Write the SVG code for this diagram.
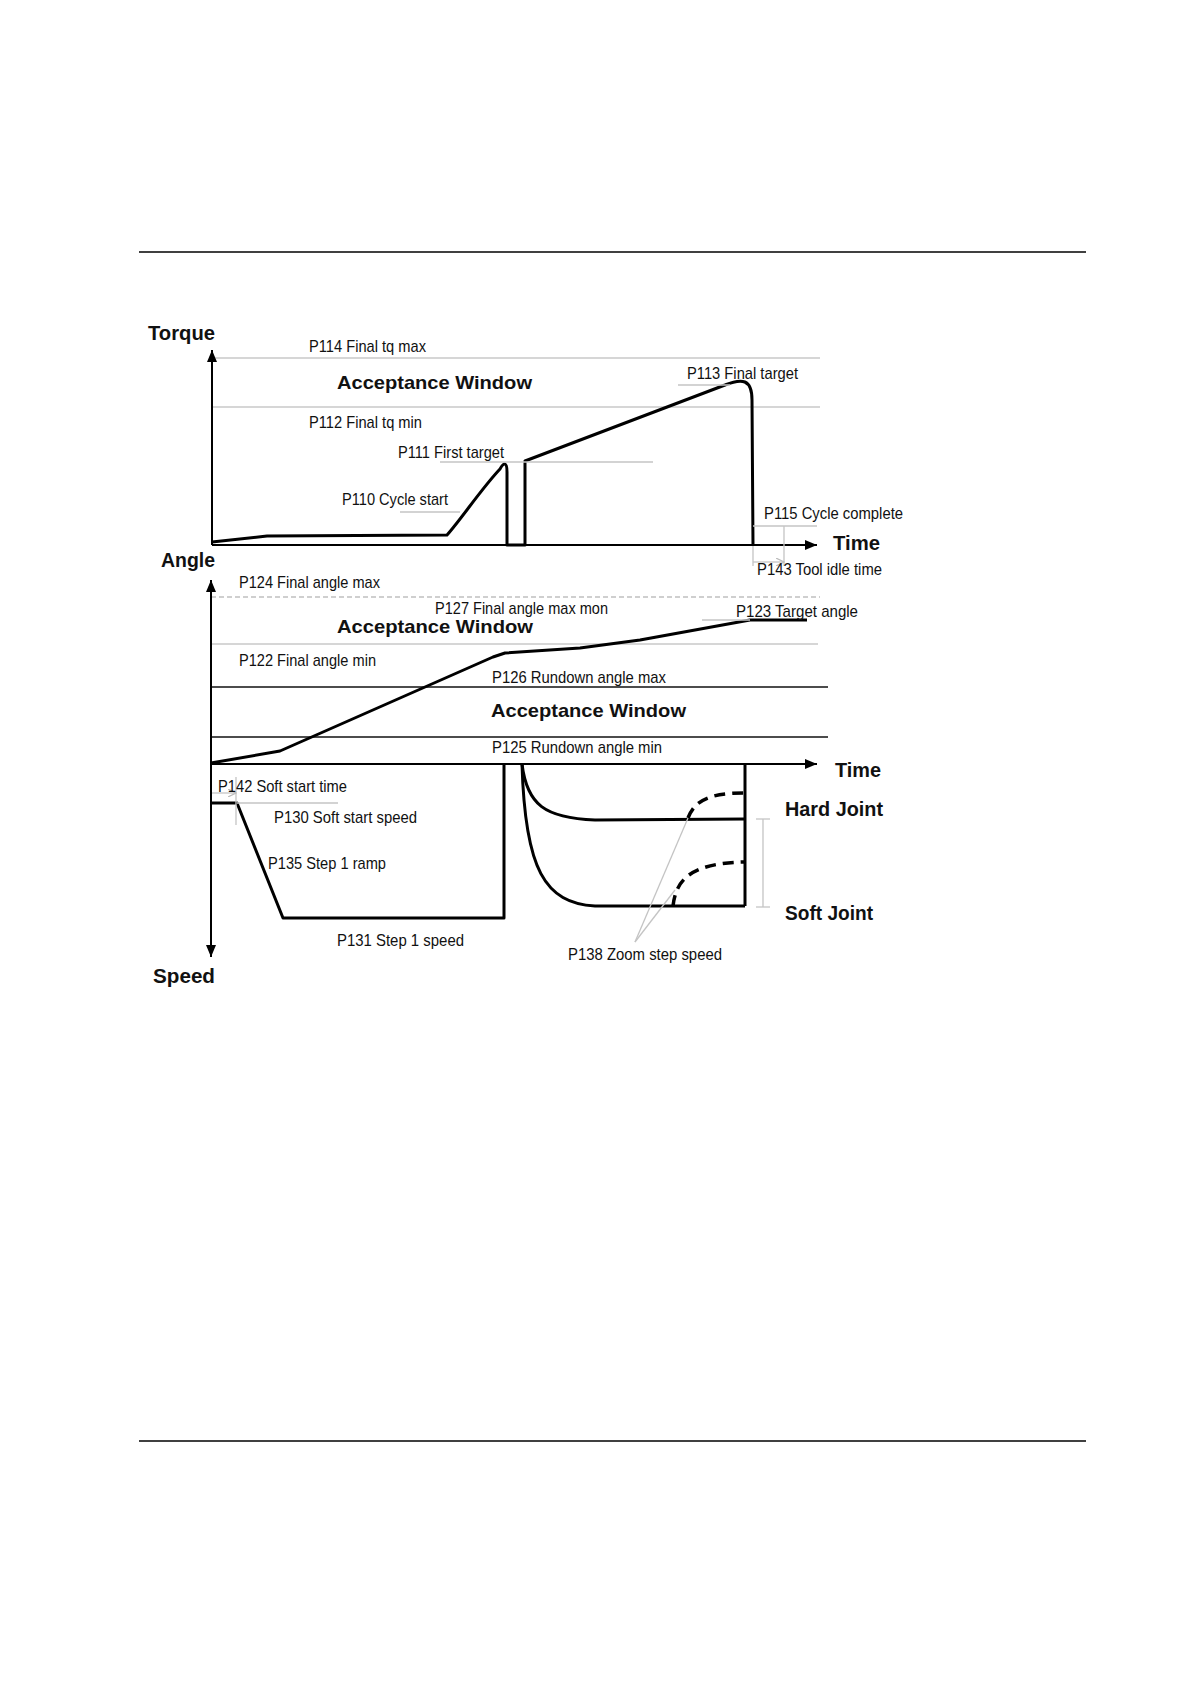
<svg xmlns="http://www.w3.org/2000/svg" width="1191" height="1684" viewBox="0 0 1191 1684">
<style>
.lbl{font-family:"Liberation Sans",Arial,sans-serif;font-size:17px;fill:#111}
.bld{font-family:"Liberation Sans",Arial,sans-serif;font-size:18.5px;font-weight:bold;fill:#111}
.axis{stroke:#000;stroke-width:2;fill:none}
.curve{stroke:#000;stroke-width:3;fill:none;stroke-linejoin:round}
.grid{stroke:#c8c8c8;stroke-width:1.5;fill:none}
.lead{stroke:#c4c4c4;stroke-width:1.3;fill:none}
.blk{stroke:#111;stroke-width:1.5;fill:none}
.dash{stroke:#000;stroke-width:3.5;fill:none;stroke-dasharray:11 7}
</style>
<defs>
<marker id="ah" markerUnits="userSpaceOnUse" markerWidth="13" markerHeight="10" refX="12" refY="5" orient="auto">
<path d="M0,0 L12,5 L0,10 z" fill="#000"/>
</marker>
<marker id="gh" markerUnits="userSpaceOnUse" markerWidth="9" markerHeight="8" refX="8" refY="4" orient="auto">
<path d="M0,0 L8,4 L0,8" fill="none" stroke="#bbb" stroke-width="1.2"/>
</marker>
</defs>
<rect width="1191" height="1684" fill="#fff"/>
<g id="page-rules">
<line x1="139" y1="252" x2="1086" y2="252" stroke="#000" stroke-width="1.4"/>
<line x1="139" y1="1441" x2="1086" y2="1441" stroke="#000" stroke-width="1.4"/>
</g>
<g id="torque-chart">
<line class="grid" x1="212" y1="358" x2="820" y2="358"/>
<line class="grid" x1="212" y1="407" x2="820" y2="407"/>
<line class="axis" x1="212" y1="545" x2="212" y2="350" marker-end="url(#ah)"/>
<line class="axis" x1="212" y1="545" x2="817" y2="545" marker-end="url(#ah)"/>
<path class="curve" d="M212,542 L267,536 L447,535 C462,518 482,488 500,469 C504,462 507,462 507,472 L507,545 L525,545 L525,461 L725,385 C742,378 752,379 752,400 L753,545"/>
</g>
<g id="angle-chart">
<line x1="211" y1="597" x2="820" y2="597" stroke="#c0c0c0" stroke-width="1.5" stroke-dasharray="5 3"/>
<line class="grid" x1="211" y1="644" x2="818" y2="644"/>
<line class="blk" x1="211" y1="687" x2="828" y2="687"/>
<line class="blk" x1="211" y1="737" x2="828" y2="737"/>
<line class="axis" x1="211" y1="764" x2="211" y2="580" marker-end="url(#ah)"/>
<line class="axis" x1="211" y1="764" x2="817" y2="764" marker-end="url(#ah)"/>
<path class="curve" d="M211,763 L280,751 L493,657 L505,653 L580,648 L640,640 L750,620 L807,620"/>
</g>
<g id="speed-chart">
<line class="axis" x1="211" y1="764" x2="211" y2="957" marker-end="url(#ah)"/>
<path class="curve" d="M211,803 L237,803 L283,918 L504,918 L504,764"/>
<path class="curve" d="M522,764 C527,805 545,818 595,820 L745,819"/>
<path class="curve" d="M522,764 C525,870 545,903 595,906 L745,906"/>
<path class="curve" d="M745,764 L745,906"/>
<path class="dash" d="M688,818 C695,800 710,793 745,793"/>
<path class="dash" d="M673,906 C676,880 690,863 745,862"/>
</g>
<g id="connectors">
<line class="lead" x1="440" y1="462" x2="653" y2="462"/>
<line class="lead" x1="400" y1="512" x2="460" y2="512"/>
<line class="lead" x1="678" y1="385" x2="730" y2="385"/>
<line class="lead" x1="753" y1="526" x2="817" y2="526"/>
<line class="lead" x1="784" y1="526" x2="784" y2="566"/>
<line class="lead" x1="753" y1="546" x2="753" y2="566"/>
<line class="lead" x1="753" y1="562" x2="784" y2="562" marker-end="url(#gh)"/>
<line class="lead" x1="702" y1="620" x2="750" y2="620"/>
<line class="lead" x1="237" y1="803" x2="338" y2="803"/>
<line class="lead" x1="236" y1="777" x2="236" y2="825"/>
<line class="lead" x1="212" y1="793" x2="236" y2="793" marker-end="url(#gh)"/>
<line class="lead" x1="635" y1="942" x2="688" y2="818"/>
<line class="lead" x1="635" y1="942" x2="675" y2="890"/>
<line class="lead" x1="763" y1="819" x2="763" y2="907"/>
<line class="lead" x1="756" y1="819" x2="770" y2="819"/>
<line class="lead" x1="756" y1="907" x2="770" y2="907"/>
</g>
<g id="labels">
<text class="bld" x="148" y="340" textLength="67" lengthAdjust="spacingAndGlyphs" style="font-size:19.5px">Torque</text>
<text class="lbl" x="309" y="352" textLength="117" lengthAdjust="spacingAndGlyphs">P114 Final tq max</text>
<text class="bld" x="337" y="389" textLength="195" lengthAdjust="spacingAndGlyphs">Acceptance Window</text>
<text class="lbl" x="309" y="428" textLength="113" lengthAdjust="spacingAndGlyphs">P112 Final tq min</text>
<text class="lbl" x="398" y="458" textLength="106" lengthAdjust="spacingAndGlyphs">P111 First target</text>
<text class="lbl" x="342" y="505" textLength="106" lengthAdjust="spacingAndGlyphs">P110 Cycle start</text>
<text class="lbl" x="687" y="379" textLength="111" lengthAdjust="spacingAndGlyphs">P113 Final target</text>
<text class="lbl" x="764" y="519" textLength="139" lengthAdjust="spacingAndGlyphs">P115 Cycle complete</text>
<text class="bld" x="833" y="550" textLength="47" lengthAdjust="spacingAndGlyphs" style="font-size:19.5px">Time</text>
<text class="lbl" x="757" y="575" textLength="125" lengthAdjust="spacingAndGlyphs">P143 Tool idle time</text>
<text class="bld" x="161" y="567" textLength="54" lengthAdjust="spacingAndGlyphs" style="font-size:19.5px">Angle</text>
<text class="lbl" x="239" y="588" textLength="141" lengthAdjust="spacingAndGlyphs">P124 Final angle max</text>
<text class="lbl" x="435" y="614" textLength="173" lengthAdjust="spacingAndGlyphs">P127 Final angle max mon</text>
<text class="bld" x="337" y="633" textLength="196" lengthAdjust="spacingAndGlyphs">Acceptance Window</text>
<text class="lbl" x="736" y="617" textLength="122" lengthAdjust="spacingAndGlyphs">P123 Target angle</text>
<text class="lbl" x="239" y="666" textLength="137" lengthAdjust="spacingAndGlyphs">P122 Final angle min</text>
<text class="lbl" x="492" y="683" textLength="174" lengthAdjust="spacingAndGlyphs">P126 Rundown angle max</text>
<text class="bld" x="491" y="717" textLength="195" lengthAdjust="spacingAndGlyphs">Acceptance Window</text>
<text class="lbl" x="492" y="753" textLength="170" lengthAdjust="spacingAndGlyphs">P125 Rundown angle min</text>
<text class="bld" x="835" y="777" textLength="46" lengthAdjust="spacingAndGlyphs" style="font-size:19.5px">Time</text>
<text class="lbl" x="218" y="792" textLength="129" lengthAdjust="spacingAndGlyphs">P142 Soft start time</text>
<text class="lbl" x="274" y="823" textLength="143" lengthAdjust="spacingAndGlyphs">P130 Soft start speed</text>
<text class="lbl" x="268" y="869" textLength="118" lengthAdjust="spacingAndGlyphs">P135 Step 1 ramp</text>
<text class="lbl" x="337" y="946" textLength="127" lengthAdjust="spacingAndGlyphs">P131 Step 1 speed</text>
<text class="lbl" x="568" y="960" textLength="154" lengthAdjust="spacingAndGlyphs">P138 Zoom step speed</text>
<text class="bld" x="785" y="816" textLength="98" lengthAdjust="spacingAndGlyphs" style="font-size:19.5px">Hard Joint</text>
<text class="bld" x="785" y="920" textLength="88" lengthAdjust="spacingAndGlyphs" style="font-size:19.5px">Soft Joint</text>
<text class="bld" x="153" y="983" textLength="62" lengthAdjust="spacingAndGlyphs" style="font-size:19.5px">Speed</text>
</g>
</svg>
